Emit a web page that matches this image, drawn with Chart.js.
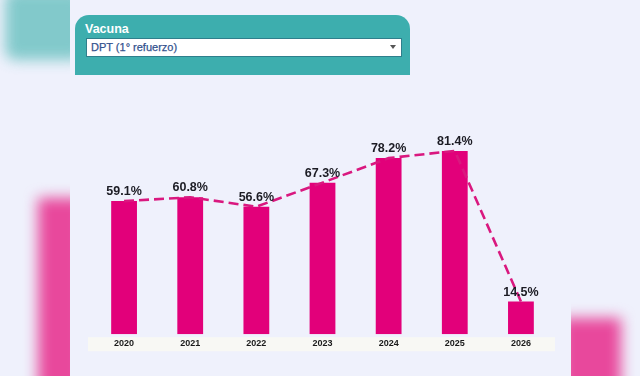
<!DOCTYPE html>
<html>
<head>
<meta charset="utf-8">
<script src="https://cdn.jsdelivr.net/npm/chart.js@4.4.1/dist/chart.umd.min.js"></script>
<style>
  html, body { margin: 0; padding: 0; }
  body {
    width: 640px; height: 376px; overflow: hidden; position: relative;
    background: #eff1fc; font-family: "Liberation Sans", Arial, sans-serif;
  }
  .blob { position: absolute; filter: blur(7px); }
  .clip { position: absolute; overflow: hidden; }
  #panel {
    position: absolute; left: 75px; top: 15px; width: 335px; height: 60px;
    background: #3daeae; border-radius: 14px 14px 0 0;
  }
  #panel .lbl {
    position: absolute; left: 10px; top: 7px; color: #fff;
    font-weight: bold; font-size: 12.5px;
  }
  #panel .sel {
    position: absolute; left: 11px; top: 23px;
    background: #fff; border: 1px solid #2f7f8c; box-sizing: border-box;
    width: 316px; height: 19px;
  }
  #panel .sel span {
    position: absolute; left: 4px; top: 2px; font-size: 11px; color: #33528e;
    -webkit-text-stroke: 0.25px #33528e;
  }
  #panel .sel i {
    position: absolute; right: 5px; top: 6px; width: 0; height: 0;
    border-left: 3px solid transparent; border-right: 3px solid transparent;
    border-top: 4px solid #555;
  }
  #wrap { position: absolute; left: 80px; top: 90px; width: 485px; height: 275px; }
</style>
</head>
<body>
<div class="clip" style="left:0;top:0;width:70px;height:90px;">
  <div class="blob" style="left:5px;top:-10px;width:80px;height:70px;background:#6fc3c3;border-radius:10px;opacity:0.85;"></div>
</div>
<div class="clip" style="left:0;top:170px;width:70px;height:206px;">
  <div class="blob" style="left:38px;top:28px;width:45px;height:220px;background:#e8489c;"></div>
</div>
<div class="clip" style="left:571px;top:290px;width:69px;height:86px;">
  <div class="blob" style="left:-10px;top:28px;width:60px;height:80px;background:#e8489c;"></div>
</div>

<div id="panel">
  <div class="lbl">Vacuna</div>
  <div class="sel"><span>DPT (1° refuerzo)</span><i></i></div>
</div>

<div id="wrap"><canvas id="chart"></canvas></div>

<script>
const years = ['2020', '2021', '2022', '2023', '2024', '2025', '2026'];
const coverage = [59.1, 60.8, 56.6, 67.3, 78.2, 81.4, 14.5];

const barColor = '#e2007a';
const lineColor = '#d9187f';

// light strip behind the year labels
const labelBand = {
  id: 'labelBand',
  beforeDraw(chart) {
    const { ctx, chartArea } = chart;
    ctx.save();
    ctx.fillStyle = '#f8f8f4';
    ctx.fillRect(chartArea.left - 3, chartArea.bottom + 3, chartArea.right - chartArea.left + 4, 14);
    ctx.restore();
  }
};

// percentage labels above the bars
const valueLabels = {
  id: 'valueLabels',
  afterDatasetsDraw(chart) {
    const { ctx } = chart;
    const meta = chart.getDatasetMeta(0);
    ctx.save();
    ctx.font = 'bold 12.5px "Liberation Sans", Arial, sans-serif';
    ctx.fillStyle = '#1c1c24';
    ctx.textAlign = 'center';
    ctx.textBaseline = 'bottom';
    meta.data.forEach((bar, i) => {
      ctx.fillText(coverage[i].toFixed(1) + '%', bar.x, bar.y - 3);
    });
    ctx.restore();
  }
};

Chart.defaults.font.family = '"Liberation Sans", Arial, sans-serif';

new Chart(document.getElementById('chart'), {
  data: {
    labels: years,
    datasets: [
      {
        type: 'bar',
        data: coverage,
        backgroundColor: barColor,
        barPercentage: 0.39,
        categoryPercentage: 1,
        order: 2
      },
      {
        type: 'line',
        data: coverage,
        borderColor: lineColor,
        borderWidth: 2.6,
        borderDash: [10, 5],
        pointRadius: 0,
        tension: 0,
        order: 1
      }
    ]
  },
  options: {
    responsive: true,
    maintainAspectRatio: false,
    animation: false,
    layout: { padding: { left: 11, right: 11, top: 19, bottom: 12 } },
    plugins: { legend: { display: false }, tooltip: { enabled: false } },
    scales: {
      x: {
        grid: { display: false, drawTicks: false },
        border: { display: false },
        ticks: { color: '#1a1a1a', font: { size: 9, weight: 'bold' }, padding: 4 }
      },
      y: { display: false, min: 0, max: 100 }
    }
  },
  plugins: [labelBand, valueLabels]
});
</script>
</body>
</html>
